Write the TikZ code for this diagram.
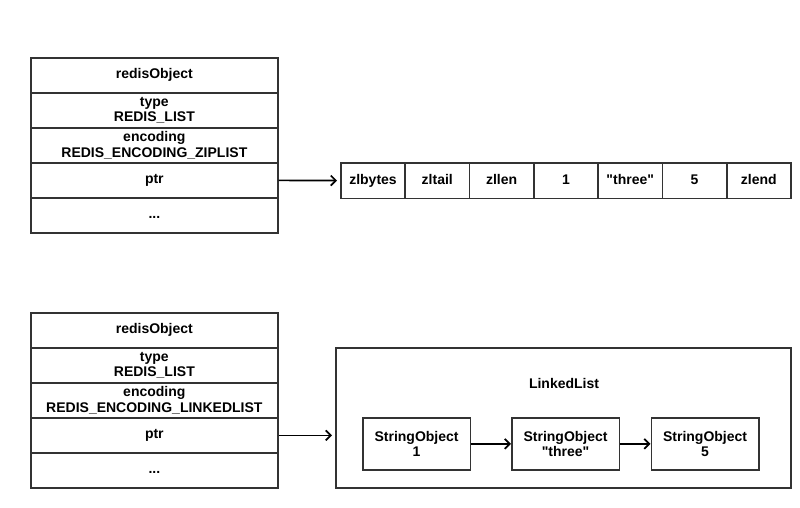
\documentclass[tikz,border=0pt]{standalone}
\usepackage{fontspec}
\setmainfont{Liberation Sans}[Ligatures=TeXOff]
\usetikzlibrary{arrows.meta}
\definecolor{linec}{HTML}{333333}
\begin{document}
\begin{tikzpicture}[x=1pt,y=-1pt,
  font=\fontsize{14}{15.5}\selectfont\bfseries,
  box/.style={draw=linec, line width=1.7pt, inner sep=0pt, align=center, anchor=north west},
  row/.style={box, minimum width=247, minimum height=35},
  one/.style={text height=10pt, text depth=3pt},
  zcell/.style={box, one, minimum width=64.3, minimum height=35.5},
  sobj/.style={box, minimum width=107.5, minimum height=52},
  link/.style={draw=black, line width=1.7pt, -{Straight Barb[length=5pt,width=10pt]}}]
\useasboundingbox (0,0) rectangle (800,507);

% ziplist-encoded object
\node[row, one] (a0) at (30,57)  {redisObject};
\node[row] (a1) at (30,92)  {type\\REDIS\_LIST};
\node[row] (a2) at (30,127) {encoding\\REDIS\_ENCODING\_ZIPLIST};
\node[row, one] (a3) at (30,162) {ptr};
\node[row, one] (a4) at (30,197) {...};

\node[zcell] (z1) at (340,162)   {zlbytes};
\node[zcell] (z2) at (404.3,162) {zltail};
\node[zcell] (z3) at (468.6,162) {zllen};
\node[zcell] (z4) at (532.9,162) {1};
\node[zcell] (z5) at (597.2,162) {"three"};
\node[zcell] (z6) at (661.5,162) {5};
\node[zcell] (z7) at (725.8,162) {zlend};

\draw[link, shorten >=3pt] (a3.east) -- (z1.west);

% linkedlist-encoded object
\node[row, one] (b0) at (30,312) {redisObject};
\node[row] (b1) at (30,347) {type\\REDIS\_LIST};
\node[row] (b2) at (30,382) {encoding\\REDIS\_ENCODING\_LINKEDLIST};
\node[row, one] (b3) at (30,417) {ptr};
\node[row, one] (b4) at (30,452) {...};

\node[box, minimum width=455, minimum height=140] (ll) at (335,347) {};
\node[inner sep=0pt] (lltitle) at (564,383) {LinkedList};

\node[sobj] (s1) at (362,417)   {StringObject\\1};
\node[sobj] (s2) at (511,417)   {StringObject\\"three"};
\node[sobj] (s3) at (650.5,417) {StringObject\\5};

\draw[link, shorten >=3pt] (b3.east) -- (b3.east -| ll.west);
\draw[link] (s1.east) -- (s2.west);
\draw[link] (s2.east) -- (s3.west);
\end{tikzpicture}
\end{document}
